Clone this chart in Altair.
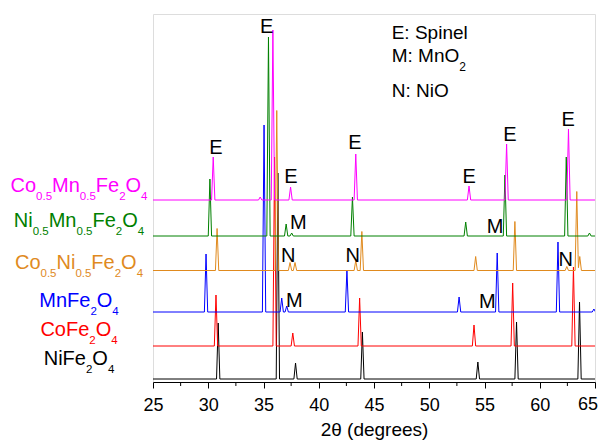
import re
import altair as alt
import pandas as pd

# ---------------- data ----------------
x_ticks = [25, 30, 35, 40, 45, 50, 55, 60, 65]
x_minor = [27.5, 32.5, 37.5, 42.5, 47.5, 52.5, 57.5, 62.5]

samples = ["NiFe2O4", "CoFe2O4", "MnFe2O4", "Co0.5Ni0.5Fe2O4",
           "Ni0.5Mn0.5Fe2O4", "Co0.5Mn0.5Fe2O4"]
colors = ["#000000", "#FF0000", "#0000FF", "#E08A1E", "#008000", "#FF00FF"]
offsets = [3, 36, 70, 111.5, 146, 182]          # stacking offset (a.u.)

ni_pos = [30.9, 36.3, 37.9, 43.95, 54.4, 57.9, 63.6]
ni_int = [56, 206, 16, 47, 17, 57, 77]
co_pos = [30.7, 36.0, 37.65, 43.7, 54.05, 57.55, 63.05]
co_int = [51, 189, 13, 48, 21, 63, 79]
mn_pos = [29.8, 35.05, 36.65, 37.1, 42.55, 52.7, 56.15, 61.65, 64.9]
mn_int = [58, 187, 14, 6, 42, 15, 59, 70, 3]
coni_pos = [30.8, 36.2, 37.4, 37.85, 43.35, 43.9, 54.2, 57.75, 62.45, 63.35, 63.62]
coni_int = [42, 160, 8, 8, 10, 39, 14, 49, 4, 79, 14]
nimn_pos = [30.15, 35.45, 37.05, 37.55, 43.05, 53.3, 56.85, 62.4, 64.5]
nimn_int = [57, 199, 12, 3, 39, 14, 61, 79, 3]
comn_pos = [30.45, 34.7, 35.85, 37.45, 43.35, 53.6, 57.0, 62.6]
comn_int = [43, 3, 170, 13, 46, 14, 56, 71]

peak_pos = [ni_pos, co_pos, mn_pos, coni_pos, nimn_pos, comn_pos]
peak_int = [ni_int, co_int, mn_int, coni_int, nimn_int, comn_int]

ann_text = ["E", "E", "E", "E", "E", "E", "E", "M", "N", "N", "M", "M", "N", "M"]
ann_x = [35.29, 30.70, 37.49, 43.28, 53.62, 57.31, 62.58, 38.15, 37.24, 43.07,
         37.79, 55.95, 62.35, 55.25]
ann_y = [349, 228, 199.3, 233, 199.3, 241.3, 256, 153, 120.3, 120.3,
         74.7, 149.3, 116.3, 74]

key_lines = [("E: Spinel", ""), ("M: MnO", "2"), ("N: NiO", "")]

# ---------------- layout / style ----------------
W, H = 442, 368
Y_MAX = 368
HALF_W = 0.15
FONT = "Liberation Sans"
TICK, LPAD, LSIZE = 6, 8, 18

# build pattern table (triangular peaks at the read positions/heights)
rows = []
for si, name in enumerate(samples):
    pos, inten, base = peak_pos[si], peak_int[si], offsets[si]
    xs = {25.0, 65.0}
    for p in pos:
        xs.update([p - HALF_W, p, p + HALF_W])
    for k, x in enumerate(sorted(xs)):
        v = 0.0
        for p, h in zip(pos, inten):
            v = max(v, h * max(0.0, 1 - abs(x - p) / HALF_W))
        rows.append({"sample": name, "x": x, "y": base + v, "k": k, "s": si})
df = pd.DataFrame(rows)

xscale = alt.Scale(domain=[25, 65], nice=False, zero=False)
yscale = alt.Scale(domain=[0, Y_MAX], nice=False, zero=False)

last_tick = x_ticks[-1]
lines = alt.Chart(df).mark_line(strokeWidth=1, clip=True).encode(
    x=alt.X("x:Q", scale=xscale,
            axis=alt.Axis(values=x_ticks, title="2θ (degrees)", grid=False,
                          tickSize=TICK, labelFontSize=LSIZE, titleFontSize=19,
                          labelFont=FONT, titleFont=FONT, titleFontWeight="normal",
                          labelColor="black", titleColor="black", tickColor="black",
                          domainColor="black", labelFlush=False, labelPadding=LPAD,
                          titlePadding=6,
                          labelExpr=f"datum.value == {last_tick} ? '' : datum.label")),
    y=alt.Y("y:Q", scale=yscale, axis=None),
    color=alt.Color("sample:N", scale=alt.Scale(domain=samples, range=colors), legend=None),
    detail="s:N",
    order="k:Q",
)

# last tick label drawn separately so it stays inside the page
last_label = alt.Chart(pd.DataFrame({"t": [str(last_tick)]})).mark_text(
    font=FONT, fontSize=LSIZE, align="right", baseline="top", color="black"
).encode(x=alt.value(W + 3), y=alt.value(H + TICK + LPAD), text="t:N")

minor = alt.Chart(pd.DataFrame({"x": x_minor})).mark_rule(color="black", strokeWidth=1).encode(
    x=alt.X("x:Q", scale=xscale),
    y=alt.value(H),
    y2=alt.value(H + 4),
)

ann = alt.Chart(pd.DataFrame({"t": ann_text, "x": ann_x, "y": ann_y})).mark_text(
    fontSize=20, font=FONT, align="center", baseline="alphabetic", color="black"
).encode(x=alt.X("x:Q", scale=xscale), y=alt.Y("y:Q", scale=yscale), text="t:N")

# formula labels with subscripts (laid out in pixels, left of the plot)
CW = {"C": .722, "o": .556, "M": .833, "n": .556, "F": .611, "e": .556,
      "O": .778, "N": .722, "i": .222, ".": .278, "S": .667, "p": .556,
      "l": .222, ":": .278, " ": .278}
def tw(s, size):
    return sum(CW.get(c, .556) for c in s) * size

MAIN, SUB, SUB_DY = 20, 11.5, 8
label_center = -74
label_base = [351, 322, 292.7, 255.3, 213.3, 177.7]
seg_rows = []
for si, name in enumerate(samples):
    parts = re.findall(r"[A-Za-z]+|[0-9.]+", name)
    sizes = [MAIN if p[0].isalpha() else SUB for p in parts]
    total = sum(tw(p, s) for p, s in zip(parts, sizes))
    x = label_center - total / 2
    for p, s in zip(parts, sizes):
        seg_rows.append({"t": p, "px": x, "py": label_base[si] + (0 if s == MAIN else SUB_DY),
                         "sz": s, "c": colors[si]})
        x += tw(p, s)

key_x, key_base, KEY = 238.7, [25.3, 47.7, 83.3], 19
for (txt, sub), yb in zip(key_lines, key_base):
    seg_rows.append({"t": txt, "px": key_x, "py": yb, "sz": KEY, "c": "black"})
    if sub:
        seg_rows.append({"t": sub, "px": key_x + tw(txt, KEY), "py": yb + 9, "sz": 12, "c": "black"})

segs = alt.Chart(pd.DataFrame(seg_rows)).mark_text(
    font=FONT, align="left", baseline="alphabetic"
).encode(
    x=alt.X("px:Q", scale=None, axis=None),
    y=alt.Y("py:Q", scale=None, axis=None),
    size=alt.Size("sz:Q", scale=None, legend=None),
    color=alt.Color("c:N", scale=None, legend=None),
    text="t:N",
)

chart = alt.layer(lines, minor, ann, segs, last_label).properties(
    width=W, height=H,
    padding={"left": 145, "top": 6, "right": 3, "bottom": 61},
    autosize=alt.AutoSizeParams(type="none"),
).configure_view(stroke="black", strokeWidth=1).configure(background="white")

chart.save("out.html", embed_options={"renderer": "svg", "actions": False})
